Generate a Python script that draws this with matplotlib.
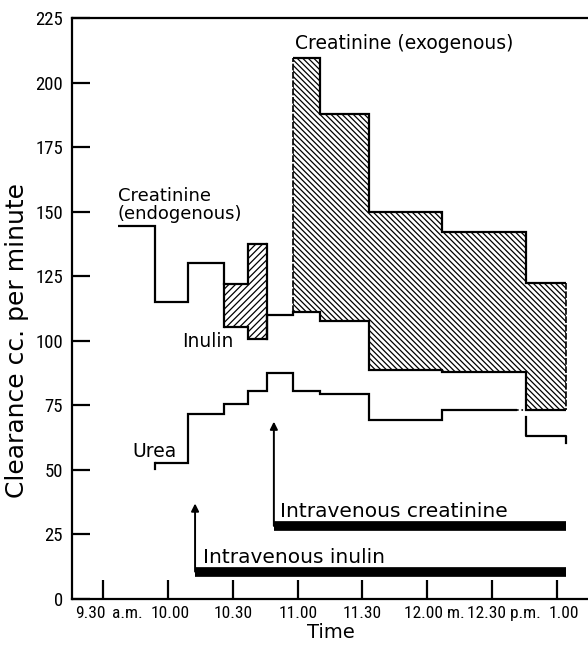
import numpy as np
import matplotlib.pyplot as plt
import matplotlib.font_manager as fm

# ── Datos (minutos después de las 9.00 a.m.) ─────────────────────────────────
period_edges = [37, 54, 69, 86, 97, 106, 118, 130.5, 153, 187, 226, 244.5]

creat_endo = [144.5, 115, 130, 122, 137.5]          # periodos 0-4
inulin = [105.5, 100.5, 110, 111, 107.5, 88.5, 88, 73]   # periodos 3-10
creat_exo = [209.5, 188, 150, 142, 122.5]           # periodos 6-10
urea = [52.5, 71.5, 75.5, 80.5, 87.5, 80.5, 79.5, 69.5, 73, 63]  # periodos 1-10

inulin_start = 72.5        # inicio inulina intravenosa
creatinine_start = 109     # inicio creatinina intravenosa

tick_times = [30, 60, 90, 120, 150, 180, 210, 240]
tick_text = ["9.30", "a.m.", "10.00", "10.30", "11.00", "11.30",
             "12.00 m.", "12.30 p.m.", "1.00"]
tick_text_pos = [24, 41, 61, 90.2, 120.3, 150, 183.5, 215.5, 243.2]

y_ticks = list(range(0, 226, 25))

# ── Fuente estrecha para los números, si hay alguna ──────────────────────────
condensed = [f for f in fm.fontManager.ttflist
             if f.stretch in ("condensed", "semi-condensed", "extra-condensed")
             and f.style == "normal" and f.weight in (400, "normal", "regular")]
pick = None
for pref in ["Liberation Sans Narrow", "Roboto Condensed", "DejaVu Sans", "Open Sans"]:
    for f in condensed:
        if f.name.startswith(pref):
            pick = f
            break
    if pick:
        break
if pick is None and condensed:
    pick = condensed[0]
if pick is not None:
    num_font = fm.FontProperties(fname=pick.fname, size=13.5)
    xlab_font = fm.FontProperties(fname=pick.fname, size=12.5)
else:
    num_font = fm.FontProperties(family="DejaVu Sans", size=10)
    xlab_font = fm.FontProperties(family="DejaVu Sans", size=9)

LW = 1.6
plt.rcParams["hatch.linewidth"] = 0.9

fig = plt.figure(figsize=(5.88, 6.55), dpi=100)
ax = fig.add_axes([72 / 588, 56 / 655, 516 / 588, 581 / 655])
ax.set_xlim(15.5, 254.5)
ax.set_ylim(0, 225)

e = period_edges

# Zonas rayadas (creatinina - inulina)
ax.fill_between(e[3:6], creat_endo[3:] + creat_endo[-1:], inulin[0:2] + inulin[1:2],
                step="post", facecolor="white", edgecolor="black", hatch="/////", lw=0)
low_exo = inulin[3:8]
ax.fill_between(e[6:12], creat_exo + creat_exo[-1:], low_exo + low_exo[-1:],
                step="post", facecolor="white", edgecolor="black",
                hatch="\\\\\\\\\\\\", lw=0)

# Creatinina endógena
ax.stairs(creat_endo, e[0:6], color="black", lw=LW, baseline=None)
ax.plot([e[3], e[3]], [creat_endo[3], inulin[0]], color="black", lw=LW)
ax.plot([e[5], e[5]], [creat_endo[4], inulin[1]], color="black", lw=LW)

# Creatinina exógena
ax.stairs(creat_exo, e[6:12], color="black", lw=LW, baseline=None)
ax.plot([e[6], e[6]], [inulin[3], creat_exo[0]], color="black", lw=1.2, ls=(0, (4, 1)))
ax.plot([e[11], e[11]], [creat_exo[-1], inulin[-1]], color="black", lw=1.2, ls=(0, (4, 1)))

# Inulina
ax.stairs(inulin, e[3:12], color="black", lw=LW, baseline=None)

# Urea
ur_edges = e[1:11]
ur_edges[-1] = 221.5
ax.stairs(urea[:9], ur_edges, color="black", lw=LW, baseline=None)
ax.plot([e[1], e[1]], [urea[0] - 2, urea[0]], color="black", lw=LW)
ax.plot([221.5, e[10]], [urea[8], urea[8]], color="black", lw=1.2, ls=":")
ax.plot([e[10], e[10], e[11], e[11]], [urea[9] + 7.5, urea[9], urea[9], urea[9] - 2.5],
        color="black", lw=LW)

# Infusiones intravenosas
for start, level, tip in [(inulin_start, 10.6, 37), (creatinine_start, 28.3, 68.7)]:
    ax.plot([start, e[11]], [level, level], color="black", lw=7, solid_capstyle="butt")
    ax.annotate("", xy=(start, tip), xytext=(start, level),
                arrowprops=dict(arrowstyle="-|>", color="black", lw=1.4,
                                mutation_scale=11, shrinkA=0, shrinkB=0))

# Textos
tkw = dict(color="black", family="DejaVu Sans", va="center", ha="left")
ax.text(118.7, 215.3, "Creatinine (exogenous)", fontsize=13.5, **tkw)
ax.text(36.8, 152.6, "Creatinine\n(endogenous)", linespacing=1.0, fontsize=13, **tkw)
ax.text(66.5, 99.7, "Inulin", fontsize=13.5, **tkw)
ax.text(43.3, 57, "Urea", fontsize=13.5, **tkw)
ax.text(111.9, 33.7, "Intravenous creatinine", fontsize=14.5, **tkw)
ax.text(76.3, 16.1, "Intravenous inulin", fontsize=14.5, **tkw)

# Ejes
ax.spines["right"].set_visible(False)
for s in ["left", "bottom", "top"]:
    ax.spines[s].set_linewidth(LW)

ax.set_yticks(y_ticks)
ax.set_yticklabels([str(v) for v in y_ticks], fontproperties=num_font)
ax.tick_params(axis="y", direction="in", length=13, width=LW, pad=6.5)

ax.xaxis.remove_overlapping_locs = False
ax.set_xticks(tick_times)
ax.set_xticklabels([])
ax.tick_params(axis="x", which="major", direction="in", length=14, width=LW)
ax.set_xticks(tick_text_pos, minor=True)
ax.set_xticklabels(tick_text, minor=True, fontproperties=xlab_font)
ax.tick_params(axis="x", which="minor", length=0, pad=5)

fig.text(17 / 588, 1 - 340 / 655, "Clearance cc. per minute", rotation=90,
         ha="center", va="center", fontsize=18, family="DejaVu Sans")
fig.text(331 / 588, 1 - 633 / 655, "Time", ha="center", va="center",
         fontsize=14, family="DejaVu Sans")

fig.savefig("out.png", dpi=100)
